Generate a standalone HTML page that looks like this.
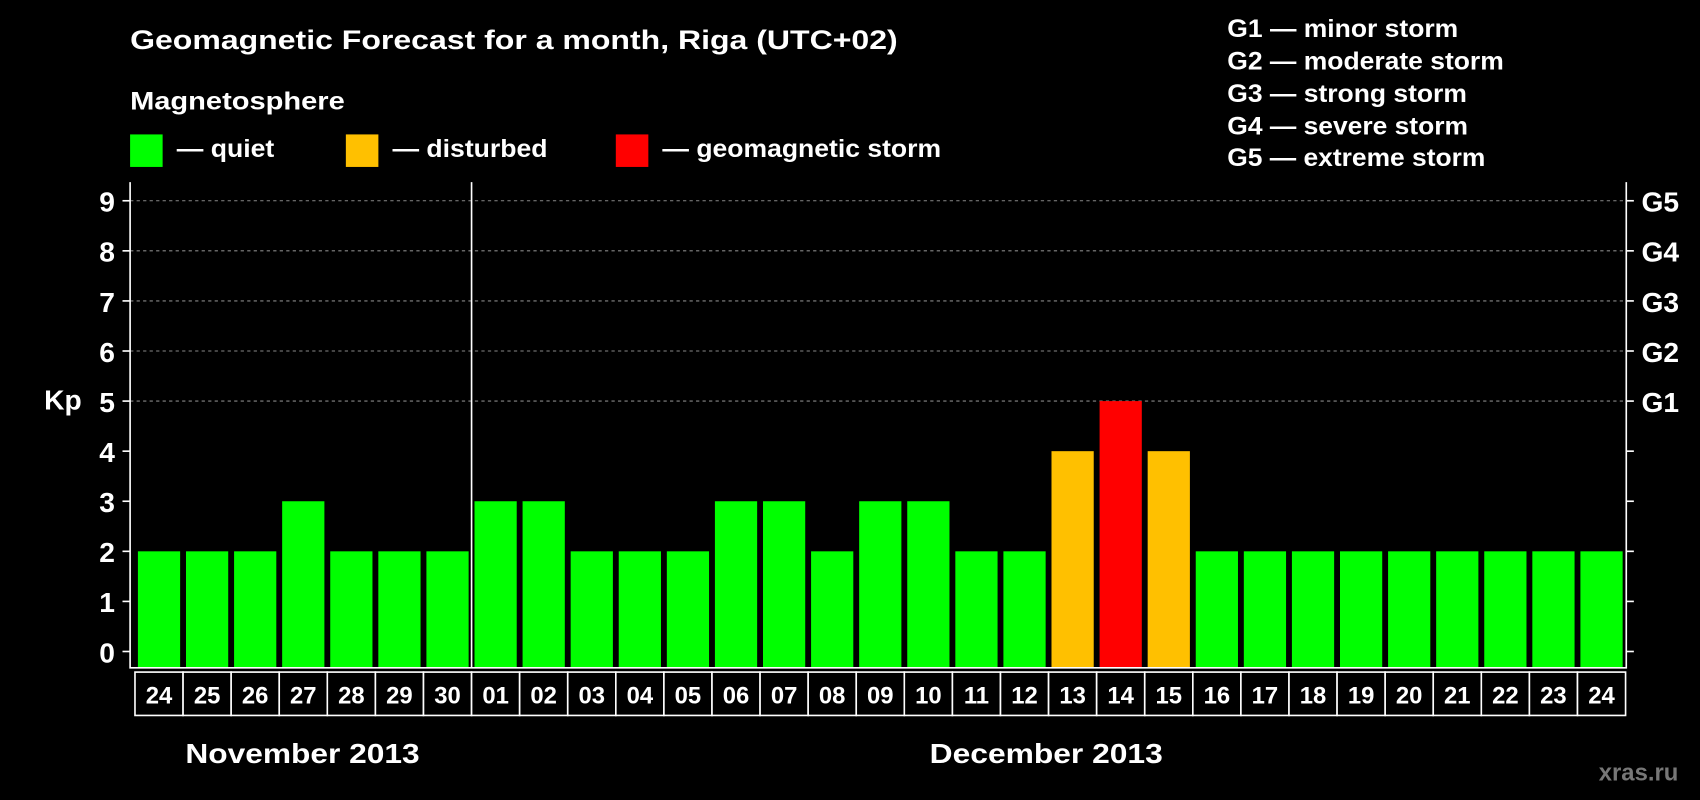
<!DOCTYPE html>
<html><head><meta charset="utf-8"><style>
html,body{margin:0;padding:0;background:#000;}
svg{display:block;}
text{font-family:"Liberation Sans",Arial,sans-serif;font-weight:bold;fill:#fff;}
</style></head><body>
<svg id="chart" width="1700" height="800" viewBox="0 0 1568 738" preserveAspectRatio="none" xmlns="http://www.w3.org/2000/svg">
<rect width="1568" height="738" fill="#000"/>
<text x="120" y="45" font-size="25" textLength="708" lengthAdjust="spacingAndGlyphs">Geomagnetic Forecast for a month, Riga (UTC+02)</text>
<text x="120" y="101" font-size="23" textLength="198" lengthAdjust="spacingAndGlyphs">Magnetosphere</text>
<g>
<rect x="120" y="124" width="30" height="30" fill="#00ff00"/>
<text x="163" y="145" font-size="23" textLength="90" lengthAdjust="spacingAndGlyphs">— quiet</text>
<rect x="319" y="124" width="30" height="30" fill="#ffc000"/>
<text x="362" y="145" font-size="23" textLength="143" lengthAdjust="spacingAndGlyphs">— disturbed</text>
<rect x="568" y="124" width="30" height="30" fill="#ff0000"/>
<text x="611" y="145" font-size="23" textLength="257" lengthAdjust="spacingAndGlyphs">— geomagnetic storm</text>
</g>
<g font-size="23">
<text x="1132" y="34" textLength="213" lengthAdjust="spacingAndGlyphs">G1 — minor storm</text>
<text x="1132" y="64" textLength="255" lengthAdjust="spacingAndGlyphs">G2 — moderate storm</text>
<text x="1132" y="94" textLength="221" lengthAdjust="spacingAndGlyphs">G3 — strong storm</text>
<text x="1132" y="124" textLength="222" lengthAdjust="spacingAndGlyphs">G4 — severe storm</text>
<text x="1132" y="153" textLength="238" lengthAdjust="spacingAndGlyphs">G5 — extreme storm</text>
</g>
<text x="58" y="378" font-size="26" text-anchor="middle">Kp</text>
<g id="grid"></g>
<g id="bars"></g>
<g id="axes"></g>
<text x="279" y="704" font-size="26" text-anchor="middle" textLength="216" lengthAdjust="spacingAndGlyphs">November 2013</text>
<text x="965" y="704" font-size="26" text-anchor="middle" textLength="215" lengthAdjust="spacingAndGlyphs">December 2013</text>
<text x="1548" y="720" font-size="22" text-anchor="end" style="fill:#777">xras.ru</text>
</svg>
<script>
const days = ["24","25","26","27","28","29","30","01","02","03","04","05","06","07","08","09","10","11","12","13","14","15","16","17","18","19","20","21","22","23","24"];
const kp = [2,2,2,3,2,2,2,3,3,2,2,2,3,3,2,3,3,2,2,4,5,4,2,2,2,2,2,2,2,2,2];
const yTicks = [0,1,2,3,4,5,6,7,8,9];
const gLabels = ["G1","G2","G3","G4","G5"];
const NS="http://www.w3.org/2000/svg";
const L=120,R=1500,T=168,B=616,x0=124.5,slot=44.35;
function y(v){return 601-46.2*v;}
function x(i){return x0+slot*i;}
function mk(tag,attrs,parent){const e=document.createElementNS(NS,tag);for(const k in attrs)e.setAttribute(k,attrs[k]);parent.appendChild(e);return e;}
const grid=document.getElementById('grid'),bars=document.getElementById('bars'),axes=document.getElementById('axes');
yTicks.forEach(v=>{
  if(v>=5){const g=mk('line',{x1:L,x2:R,y1:y(v),y2:y(v),stroke:'#888','stroke-dasharray':'3,3','stroke-width':1},grid);
  
  }
  const t=mk('line',{x1:L-7,x2:L,y1:y(v),y2:y(v),stroke:'#fff','stroke-width':1.5},axes);
  
  
  const t2=mk('line',{x1:R,x2:R+7,y1:y(v),y2:y(v),stroke:'#fff','stroke-width':1.5},axes);
  
  
  const lb=mk('text',{x:L-14,y:y(v)+10,'font-size':26,'text-anchor':'end'},axes);lb.textContent=v;
  
  
  if(v>=5){const gl=mk('text',{x:R+14,y:y(v)+10,'font-size':26},axes);gl.textContent=gLabels[v-5];
  
  }
});
kp.forEach((v,i)=>{
  const c=v>=5?'#ff0000':(v>=4?'#ffc000':'#00ff00');
  const b=mk('rect',{x:x(i)+2.7,y:y(v),width:slot-5.4,height:B-y(v),fill:c},bars);
  
  
  const bx=mk('rect',{x:x(i),y:620,width:slot,height:40,fill:'#000',stroke:'#fff','stroke-width':1.5},axes);
  
  
  const tx=mk('text',{x:x(i)+slot/2,y:649,'font-size':22,'text-anchor':'middle'},axes);tx.textContent=days[i];
  
  
});
const frame=mk('path',{d:`M${L},${T} L${L},${B} L${R},${B} L${R},${T}`,fill:'none',stroke:'#fff','stroke-width':1.5},axes);


const div=mk('line',{x1:x(7),x2:x(7),y1:T,y2:B,stroke:'#fff','stroke-width':1.5},axes);


</script>
</body></html>
